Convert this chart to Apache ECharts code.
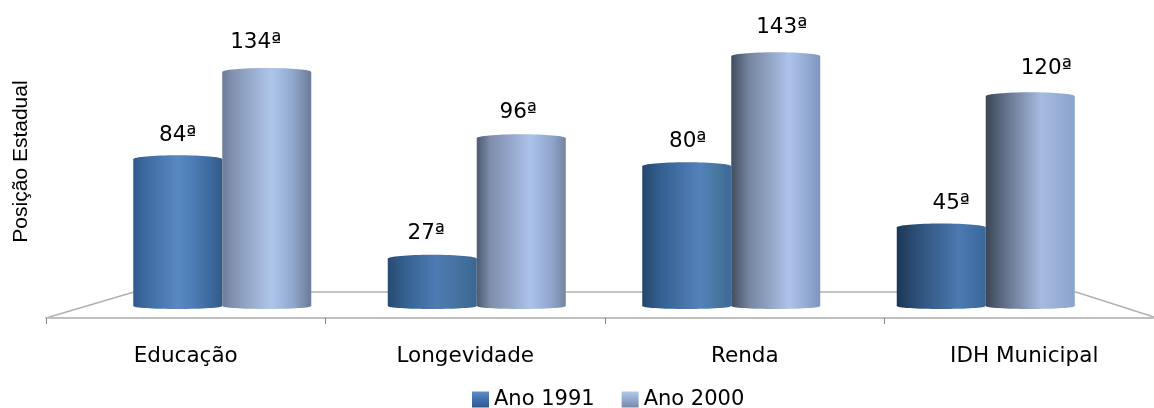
<!DOCTYPE html>
<html><head><meta charset="utf-8">
<style>html,body{margin:0;padding:0;background:#fff}#c{width:1154px;height:408px}</style>
<script src="https://cdn.jsdelivr.net/npm/echarts@6/dist/echarts.min.js"></script>
</head><body><div id="c"></div>
<script>
const categories = ['Educação','Longevidade','Renda','IDH Municipal'];
const ano1991 = [84,27,80,45];
const ano2000 = [134,96,143,120];
const yAxisName = 'Posição Estadual';

const BAR = 89;
const FONT = '"DejaVu Sans"';
const shift1991 = [[0,0],[-6,-1],[1,-1],[10,0]], shift2000 = [[-11,-5],[-3,-2],[6,-5],[16,-4]];

function grad(stops){
  return {type:'linear',x:0,y:0,x2:1,y2:0,colorStops:stops.map(s=>({offset:s[0],color:s[1]}))};
}
const g1991 = [
  grad([[0,'#2f5a8a'],[.12,'#3a699f'],[.5,'#5a88c2'],[.65,'#4f7fb8'],[.9,'#3a6699'],[1,'#335a85']]),
  grad([[0,'#274a72'],[.2,'#34628f'],[.55,'#4d7cb3'],[.8,'#44729f'],[1,'#3a6590']]),
  grad([[0,'#24466c'],[.2,'#335f90'],[.65,'#5482bb'],[.85,'#47769f'],[1,'#3d6a98']]),
  grad([[0,'#1d3654'],[.2,'#2b4d75'],[.7,'#4b7ab2'],[.9,'#3f6da3'],[1,'#3a669b']])
];
const g2000 = [
  grad([[0,'#6c7b96'],[.12,'#8292b0'],[.55,'#afc6ec'],[.8,'#90a6cc'],[1,'#6b7b97']]),
  grad([[0,'#4d5a70'],[.15,'#7d8ca9'],[.6,'#abc2ea'],[.85,'#8ea4ca'],[1,'#73849f']]),
  grad([[0,'#414d60'],[.2,'#75859f'],[.65,'#adc3ea'],[.9,'#8ca3cc'],[1,'#7e95bf']]),
  grad([[0,'#3b4555'],[.2,'#5f6d85'],[.62,'#a6bbe0'],[.9,'#92a9d1'],[1,'#8ba3cd']])
];
const legend1991 = {type:'linear',x:0,y:0,x2:0,y2:1,colorStops:[{offset:0,color:'#5f8cc4'},{offset:.5,color:'#3f70ad'},{offset:1,color:'#2f5a8f'}]};
const legend2000 = {type:'linear',x:0,y:0,x2:0,y2:1,colorStops:[{offset:0,color:'#b4c8ea'},{offset:.5,color:'#93a8cf'},{offset:1,color:'#7688aa'}]};

function barData(vals,grads,shifts){
  return vals.map((v,i)=>({value:v,itemStyle:{color:grads[i]},label:{offset:shifts[i]}}));
}
function caps(sign,grads,idx){
  return {
    type:'custom',xAxisIndex:1,yAxisIndex:1,silent:true,z:sign<0?3:5,clip:false,tooltip:{show:false},
    data:idx.map((v,i)=>[i,v]),
    encode:{x:0,y:1},
    renderItem(params,api){
      const i=api.value(0);
      const cx=api.coord([i,0])[0]+sign*BAR/2;
      const yTop=api.coord([i,api.value(1)])[1];
      const yBase=api.coord([i,0])[1];
      const top={type:'ellipse',shape:{cx,cy:yTop,rx:BAR/2,ry:4},style:{fill:grads[i]}};
      const bot={type:'ellipse',shape:{cx,cy:yBase,rx:BAR/2,ry:3},style:{fill:grads[i]}};
      return {type:'group',children:[bot,top]};
    }
  };
}
function bar(name,vals,grads,shifts,legendColor){
  return {name,type:'bar',xAxisIndex:1,yAxisIndex:1,barWidth:BAR,barGap:0,
    z:name==='Ano 2000'?4:2,
    itemStyle:{color:legendColor},
    label:{show:true,position:'top',distance:13,color:'#000',fontFamily:FONT,fontSize:21.5,
      formatter:p=>p.value+'ª'},
    data:barData(vals,grads,shifts)};
}
const chart=echarts.init(document.getElementById('c'),null,{renderer:'canvas'});
chart.setOption({
  animation:false,backgroundColor:'#fff',
  grid:[
    {left:46,top:5,width:1118,height:313,outerBoundsMode:'none'},
    {left:95,top:9,width:1018,height:297,outerBoundsMode:'none'}
  ],
  legend:{data:['Ano 1991','Ano 2000'],left:467,top:384,itemWidth:17,itemHeight:16,itemGap:27,
    icon:'rect',textStyle:{fontFamily:FONT,fontSize:21,color:'#000'}},
  xAxis:[
    {type:'category',gridIndex:0,data:categories,boundaryGap:true,
      axisLine:{lineStyle:{color:'#c0c0c0',width:2}},
      axisTick:{show:true,length:6,lineStyle:{color:'#888',width:1}},
      axisLabel:{color:'#000',fontFamily:FONT,fontSize:21.5,margin:27}},
    {type:'category',gridIndex:1,data:categories,show:false}
  ],
  yAxis:[
    {type:'value',gridIndex:0,min:0,max:170,name:yAxisName,nameLocation:'middle',nameGap:14,
      nameTextStyle:{fontFamily:'"Liberation Sans"',fontSize:21,color:'#000'},
      axisLine:{show:false},axisTick:{show:false},axisLabel:{show:false},splitLine:{show:false}},
    {type:'value',gridIndex:1,min:0,max:170,show:false,splitLine:{show:false}}
  ],
  graphic:{elements:[{type:'polyline',z:0,silent:true,
    shape:{points:[[46,318],[134,292],[1076,292],[1154,317]]},
    style:{stroke:'#b0b0b0',lineWidth:1.5,fill:null}}]},
  series:[
    bar('Ano 1991',ano1991,g1991,shift1991,legend1991),
    caps(-1,g1991,ano1991),
    bar('Ano 2000',ano2000,g2000,shift2000,legend2000),
    caps(1,g2000,ano2000)
  ]
});
</script></body></html>
